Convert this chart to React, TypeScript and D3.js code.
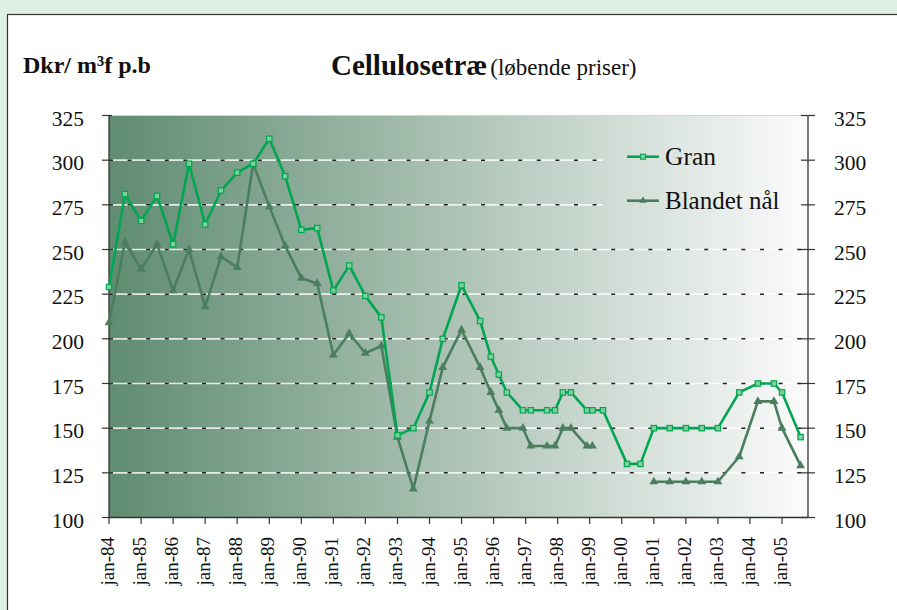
import React from "react";
import * as d3 from "d3";

const dates = [
  "1984-01","1984-07","1985-01","1985-07","1986-01","1986-07","1987-01","1987-07",
  "1988-01","1988-07","1989-01","1989-07","1990-01","1990-07","1991-01","1991-07",
  "1992-01","1992-07","1993-01","1993-07","1994-01","1994-06","1995-01","1995-08",
  "1995-12","1996-03","1996-06","1996-12","1997-03","1997-09","1997-12","1998-03",
  "1998-06","1998-12","1999-02","1999-06","2000-03","2000-08","2001-01","2001-07",
  "2002-01","2002-07","2003-01","2003-09","2004-04","2004-10","2005-01","2005-08",
];

const gran: number[] = [
  229, 281, 266, 280, 253, 298, 264, 283,
  293, 298, 312, 291, 261, 262, 227, 241,
  224, 212, 146, 150, 170, 200, 230, 210,
  190, 180, 170, 160, 160, 160, 160, 170,
  170, 160, 160, 160, 130, 130, 150, 150,
  150, 150, 150, 170, 175, 175, 170, 145,
];

const blandet: (number | null)[] = [
  209, 254, 239, 253, 227, 250, 218, 246,
  240, 298, 274, 252, 234, 231, 191, 203,
  192, 196, 145, 116, 154, 184, 205, 184,
  170, 160, 150, 150, 140, 140, 140, 150,
  150, 140, 140, null, null, null, 120, 120,
  120, 120, 120, 134, 165, 165, 150, 129,
];

const xTickLabels = [
  "jan-84","jan-85","jan-86","jan-87","jan-88","jan-89","jan-90","jan-91",
  "jan-92","jan-93","jan-94","jan-95","jan-96","jan-97","jan-98","jan-99",
  "jan-00","jan-01","jan-02","jan-03","jan-04","jan-05",
];
const yTicks = [100, 125, 150, 175, 200, 225, 250, 275, 300, 325];
const seriesNames = ["Gran", "Blandet nål"];

const W = 897;
const H = 610;
const plot = { left: 109, right: 808, top: 115.5, bottom: 517.5 };
const GRAN_C = "#00a651";
const BLAND_C = "#4b7d5f";
const FONT = "'Liberation Serif', 'DejaVu Serif', serif";

export default function App() {
  const parse = d3.timeParse("%Y-%m");
  const parsedDates = dates.map((d) => parse(d) as Date);
  const x = d3
    .scaleTime()
    .domain([new Date(1984, 0, 1), new Date(2005, 9, 24)])
    .range([plot.left, plot.right]);
  const y = d3.scaleLinear().domain([100, 325]).range([plot.bottom, plot.top]);

  const tickDates = xTickLabels.map((_, i) => new Date(1984 + i, 0, 1));

  const granPts = parsedDates.map((d, i) => ({ d, v: gran[i] as number | null }));
  const blandPts = parsedDates.map((d, i) => ({ d, v: blandet[i] }));

  const line = d3
    .line<{ d: Date; v: number | null }>()
    .defined((p) => p.v !== null)
    .x((p) => x(p.d))
    .y((p) => y(p.v as number));

  const tri = d3.symbol().type(d3.symbolTriangle).size(34)() as string;
  const triLeg = d3.symbol().type(d3.symbolTriangle).size(24)() as string;

  const legendY = [156.7, 200.7];

  return (
    <svg
      width={W}
      height={H}
      style={{ position: "absolute", left: 0, top: 0, display: "block" }}
      fontFamily={FONT}
    >
      <defs>
        <linearGradient
          id="bg"
          gradientUnits="userSpaceOnUse"
          x1={plot.left}
          x2={plot.right}
          y1={0}
          y2={0}
        >
          <stop offset="0%" stopColor="#5f8c71" />
          <stop offset="100%" stopColor="#fbfbfb" />
        </linearGradient>
      </defs>
      <rect x={0} y={0} width={W} height={H} fill="#e1f0e5" />
      <rect x={7.5} y={14.5} width={W + 20} height={H + 20} fill="#ffffff" stroke="#333" strokeWidth={1.2} />

      {/* plot background */}
      <rect
        x={plot.left}
        y={plot.top}
        width={plot.right - plot.left}
        height={plot.bottom - plot.top}
        fill="url(#bg)"
      />
      {/* gridlines */}
      {yTicks
        .filter((t) => t !== 100 && t !== 325)
        .map((t) => (
          <g key={"g" + t}>
            <line x1={plot.left} x2={plot.right} y1={y(t)} y2={y(t)} stroke="#ffffff" strokeOpacity={0.8} strokeWidth={1.6} />
            <line
              x1={plot.left}
              x2={plot.right}
              y1={y(t)}
              y2={y(t)}
              stroke="#222"
              strokeWidth={1.5}
              strokeDasharray="4,14.6"
            />
          </g>
        ))}
      <line x1={plot.left} x2={plot.right} y1={y(325)} y2={y(325)} stroke="#d4d4d4" strokeWidth={1.2} />

      {/* legend box (covers gridlines) */}
      <rect x={603} y={128} width={200} height={100} fill="url(#bg)" />

      {/* axes */}
      <line x1={plot.left} x2={plot.left} y1={plot.top} y2={plot.bottom} stroke="#333" strokeWidth={1.3} />
      <line x1={plot.right} x2={plot.right} y1={plot.top} y2={plot.bottom} stroke="#333" strokeWidth={1.3} />
      <line x1={plot.left} x2={plot.right} y1={plot.bottom} y2={plot.bottom} stroke="#333" strokeWidth={1.3} />
      {yTicks.map((t) => (
        <g key={"yt" + t}>
          <line x1={plot.left - 7} x2={plot.left + 3} y1={y(t)} y2={y(t)} stroke="#333" strokeWidth={1.2} />
          <line x1={plot.right - 7} x2={plot.right + 7} y1={y(t)} y2={y(t)} stroke="#333" strokeWidth={1.2} />
          <text x={84} y={y(t) + 10} fontSize={21.5} textAnchor="end" fill="#111">
            {t}
          </text>
          <text x={834} y={y(t) + 10} fontSize={21.5} textAnchor="start" fill="#111">
            {t}
          </text>
        </g>
      ))}
      {tickDates.map((d, i) => (
        <g key={"xt" + i}>
          <line x1={x(d)} x2={x(d)} y1={plot.bottom} y2={plot.bottom + 6.5} stroke="#333" strokeWidth={1.2} />
          <text
            transform={`translate(${x(d) + 5},${537}) rotate(-90)`}
            fontSize={19}
            textAnchor="end"
            fill="#111"
          >
            {xTickLabels[i]}
          </text>
        </g>
      ))}

      {/* series */}
      <path d={line(blandPts) as string} fill="none" stroke={BLAND_C} strokeWidth={2.6} strokeLinejoin="round" />
      {blandPts
        .filter((p) => p.v !== null)
        .map((p, i) => (
          <path key={"bm" + i} d={tri} transform={`translate(${x(p.d)},${y(p.v as number)})`} fill={BLAND_C} />
        ))}
      <path d={line(granPts) as string} fill="none" stroke={GRAN_C} strokeWidth={2.6} strokeLinejoin="round" />
      {granPts.map((p, i) => (
        <rect
          key={"gm" + i}
          x={x(p.d) - 2.7}
          y={y(p.v as number) - 2.7}
          width={5.4}
          height={5.4}
          fill="#7fcf9a"
          stroke={GRAN_C}
          strokeWidth={1.2}
        />
      ))}

      {/* legend */}
      <line x1={627} x2={659} y1={legendY[0]} y2={legendY[0]} stroke={GRAN_C} strokeWidth={2.6} />
      <rect x={640.5} y={legendY[0] - 2.5} width={5} height={5} fill="#7fcf9a" stroke={GRAN_C} strokeWidth={1.1} />
      <text x={665} y={legendY[0] + 8.5} fontSize={25.5} fill="#111">
        {seriesNames[0]}
      </text>
      <line x1={627} x2={659} y1={legendY[1]} y2={legendY[1]} stroke={BLAND_C} strokeWidth={2.6} />
      <path d={triLeg} transform={`translate(643,${legendY[1]})`} fill={BLAND_C} />
      <text x={665} y={legendY[1] + 8.5} fontSize={25} fill="#111">
        {seriesNames[1]}
      </text>

      {/* titles */}
      <text x={23} y={73} fontSize={24} fontWeight="bold" fill="#111">
        Dkr/ m³f p.b
      </text>
      <text x={331} y={75} fill="#111">
        <tspan fontSize={29} fontWeight="bold">
          Cellulosetræ
        </tspan>
        <tspan fontSize={23} dx={3}>
          (løbende priser)
        </tspan>
      </text>
    </svg>
  );
}
